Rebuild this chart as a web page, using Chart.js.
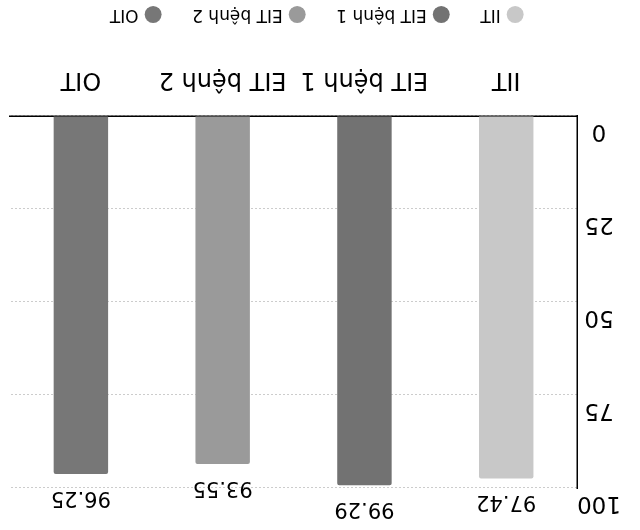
<!DOCTYPE html>
<html>
<head>
<meta charset="utf-8">
<script src="https://cdn.jsdelivr.net/npm/chart.js@4"></script>
<style>
  html, body { margin: 0; padding: 0; background: #fff; }
  /* the reference picture is turned upside down */
  #wrap { width: 640px; height: 530px; transform: rotate(180deg); }
</style>
</head>
<body>
<div id="wrap"><canvas id="myChart" width="640" height="530"></canvas></div>
<script>
// data
var categories = ["IIT", "EIT bệnh 1", "EIT bệnh 2", "OIT"];
var scores = [97.42, 99.29, 93.55, 96.25];
var barColors = ["#c8c8c8", "#727272", "#9a9a9a", "#777777"];
var yTicks = [0, 25, 50, 75, 100];

var FONT = "'DejaVu Sans', sans-serif";

// one dataset per category so the legend lists each one
var datasets = categories.map(function (name, i) {
    return {
        label: name,
        data: categories.map(function (c, j) { return j === i ? scores[i] : null; }),
        backgroundColor: barColors[i],
        borderRadius: 2,
        skipNull: true
    };
});

// value text on top of every bar
var valueLabels = {
    id: "valueLabels",
    afterDatasetsDraw: function (chart) {
        var ctx = chart.ctx;
        ctx.save();
        ctx.font = "21px " + FONT;
        ctx.fillStyle = "#000";
        ctx.textAlign = "center";
        ctx.textBaseline = "bottom";
        chart.data.datasets.forEach(function (ds, i) {
            chart.getDatasetMeta(i).data.forEach(function (bar, j) {
                if (ds.data[j] == null) return;
                ctx.fillText(ds.data[j].toFixed(2), bar.x, bar.y - 13);
            });
        });
        ctx.restore();
    }
};

var myChart = new Chart(document.getElementById("myChart").getContext("2d"), {
    type: "bar",
    data: { labels: categories, datasets: datasets },
    options: {
        responsive: false,
        animation: false,
        barPercentage: 0.48,
        categoryPercentage: 0.8,
        layout: { padding: { top: 42, right: 10, left: 19, bottom: -4 } },
        plugins: {
            legend: {
                position: "bottom",
                labels: {
                    usePointStyle: true,
                    pointStyle: "circle",
                    boxWidth: 12,
                    boxHeight: 12,
                    padding: 33,
                    color: "#000",
                    font: { family: FONT, size: 17 }
                }
            },
            tooltip: { enabled: false }
        },
        scales: {
            x: {
                grid: { display: false, drawTicks: false },
                border: { display: true, color: "#000", width: 1.5 },
                ticks: { color: "#000", padding: 22, font: { family: FONT, size: 24 } },
                afterFit: function (scale) { scale.height = 60; }
            },
            y: {
                min: yTicks[0],
                max: yTicks[yTicks.length - 1],
                afterBuildTicks: function (axis) {
                    axis.ticks = yTicks.map(function (v) { return { value: v }; });
                },
                grid: { color: "#999", drawTicks: false },
                border: { display: true, color: "#000", width: 1.5, dash: [1, 3] },
                ticks: {
                    color: "#000",
                    padding: 0,
                    crossAlign: "center",
                    labelOffset: -15,
                    font: { family: FONT, size: 23 }
                }
            }
        }
    },
    plugins: [valueLabels]
});
</script>
</body>
</html>
